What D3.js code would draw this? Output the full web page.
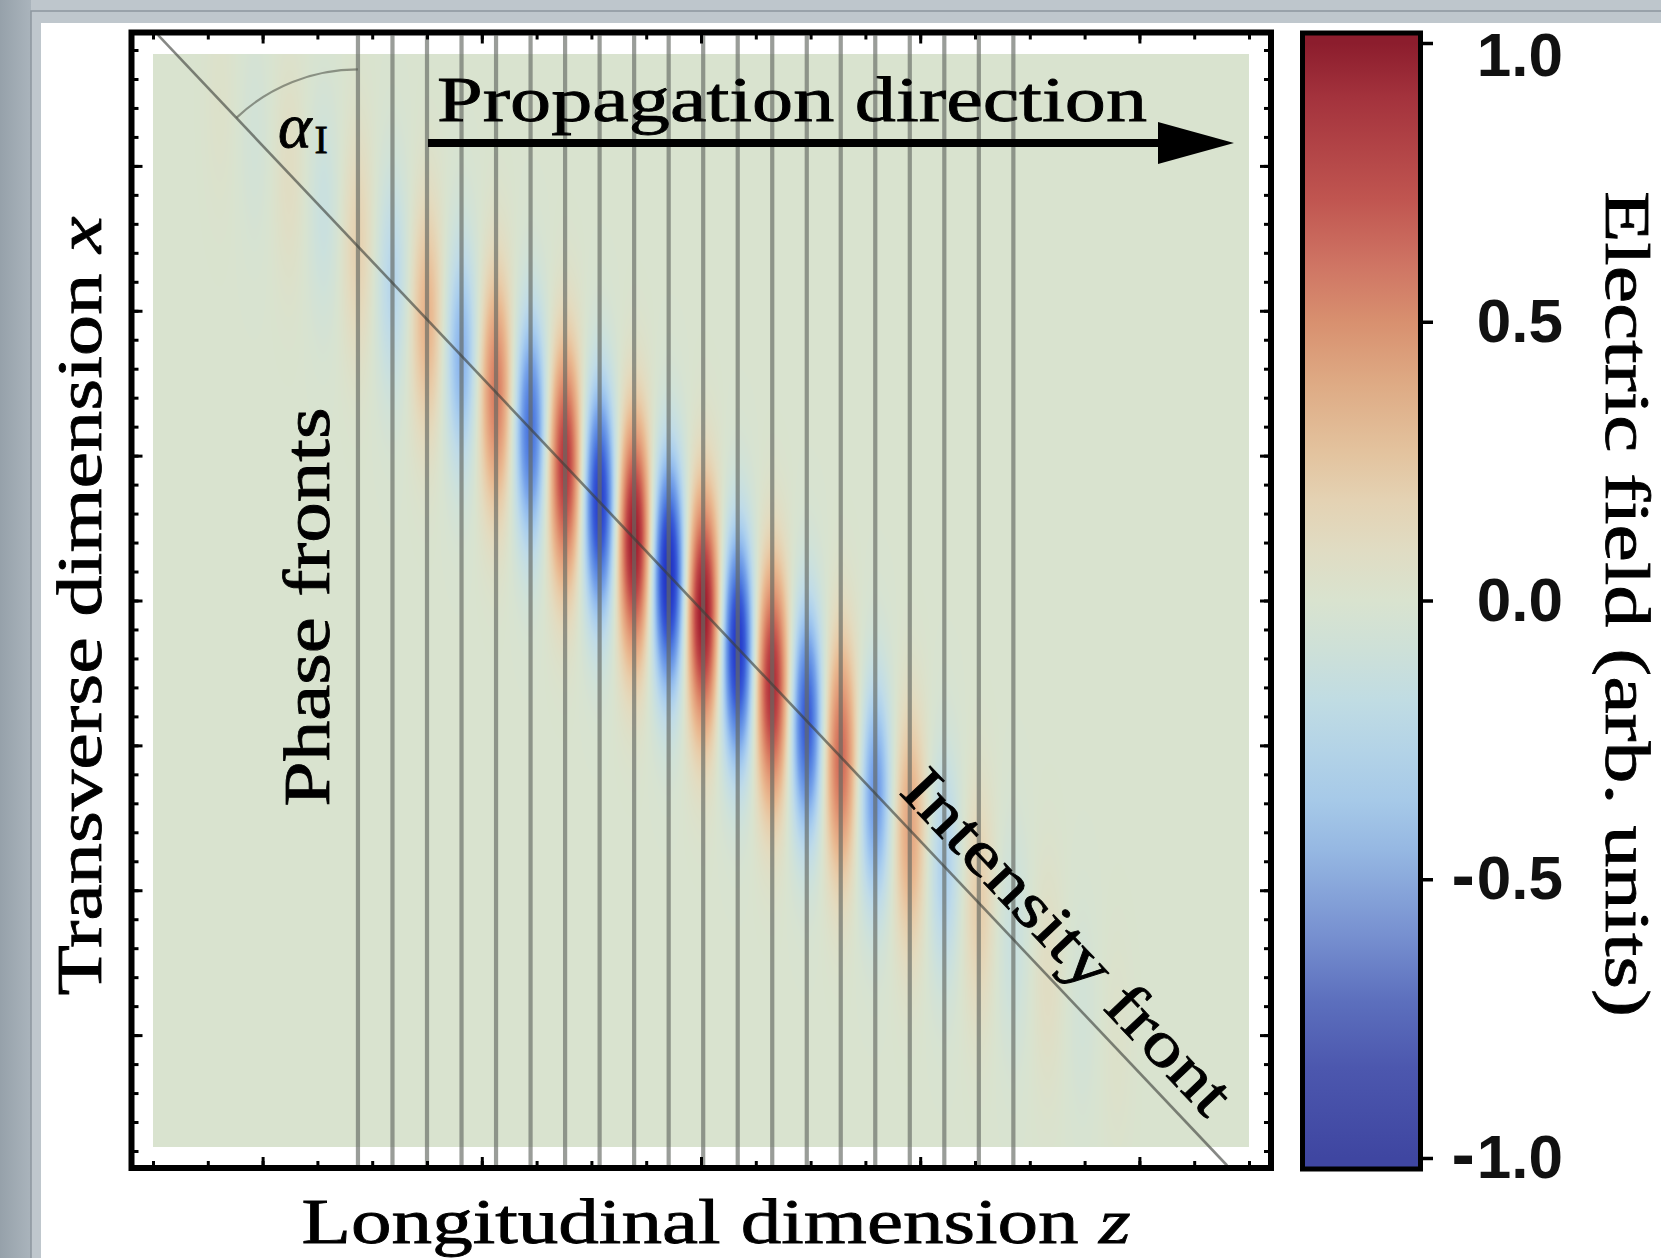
<!DOCTYPE html>
<html lang="en">
<head>
	<meta charset="utf-8">
	<style>
		body {
		  margin:0; padding:0;
		  background-color:#bcc4ca;
		}
		svg { display:block; }
		.serif { font-family:"Liberation Serif","Times New Roman",serif; fill:#000; stroke:#000; stroke-width:0.8px; }
		.cbar-label { font:bold 62px "Liberation Sans",Arial,sans-serif; fill:#111; }
	</style>
</head>
<body>
<svg id="chart" width="1661" height="1258"></svg>
<script src="https://cdn.jsdelivr.net/npm/d3@7"></script>
<script>
// ---- data ----
// frame ticks, longitudinal z (top/bottom) and transverse x (left/right)
var zTicks = [-10,-9,-8,-7,-6,-5,-4,-3,-2,-1,0,1,2,3,4,5,6,7,8,9,10];
var zMajor = [-8,-4,0,4,8];
var xTicks = [-19,-18,-17,-16,-15,-14,-13,-12,-11,-10,-9,-8,-7,-6,-5,-4,-3,-2,-1,0,
              1,2,3,4,5,6,7,8,9,10,11,12,13,14,15,16,17,18,19];
var xMajor = [-15,-10,-5,0,5,10,15];

// grey phase fronts (z)
var phaseFronts = [-6.26,-5.63,-5.00,-4.37,-3.74,-3.11,-2.48,-1.85,-1.22,-0.59,
                   0.04,0.67,1.30,1.93,2.55,3.18,3.81,4.44,5.07,5.70];

// half cycles of the pulse: centre z and signed peak field
var cycleZ = [-8.77,-8.14,-7.51,-6.88,-6.26,-5.63,-5.00,-4.37,-3.74,-3.11,-2.48,-1.85,-1.22,-0.59,
              0.04,0.67,1.30,1.93,2.55,3.18,3.81,4.44,5.07,5.70,6.33,6.96,7.59];
var cyclePeak = [0.03,-0.05,0.07,-0.11,0.15,-0.22,0.30,-0.40,0.53,-0.66,0.80,-0.88,0.95,-1.00,
                 0.97,-0.93,0.85,-0.75,0.60,-0.50,0.36,-0.26,0.17,-0.11,0.07,-0.05,0.03];

// intensity front end points
var frontZ = [-9.91, 9.60];
var frontX = [19.52, -19.50];

// colour bar
var barTicks  = [1, 0.5, 0, -0.5, -1];
var barLabels = ['1.0','0.5','0.0','-0.5','-1.0'];
var stopValues  = [-1,-0.84,-0.72,-0.6,-0.45,-0.36,-0.27,-0.18,-0.09,0,0.09,0.18,0.27,0.39,0.5,0.6,0.72,0.9,1];
var barColors   = ['#3f46a1','#4c57ae','#5c6fbd','#7790d0','#95b7e2','#a6c9e8','#b3d3e7','#c0dce3','#cde0d8','#d9e3cf',
                   '#e0dcc3','#e4d2b3','#e3c29d','#deaa84','#d8906f','#cf7564','#c05550','#a4333d','#8c1d2d'];
// the field image itself is printed a bit more saturated than the bar
var fieldColors = ['#1f30c0','#2b45cf','#3a5dd8','#5380e1','#79a5ea','#94bdee','#abcfee','#bfdbe8','#cce1dc','#d9e3cf',
                   '#e3dbbf','#e8cdaa','#e9ba92','#e49f7b','#db8366','#d06756','#bf4646','#a42231','#8c1525'];

var sigmaZ = 0.29, sigmaX = 3.9;

var svg = d3.select('#chart');
var frame = {left:131.5, top:32.5, right:1271, bottom:1168};

var zScale = d3.scaleLinear().domain([-10,10]).range([153,1249]);
var xScale = d3.scaleLinear().domain([-19,19]).range([1151,50]);
var cScale = d3.scaleLinear().domain([-1,1]).range([1158,43]);
var frontAt = d3.scaleLinear().domain(frontZ).range(frontX);

// ---- window chrome ----
var defs = svg.append('defs');
var lg = defs.append('linearGradient').attr('id','side').attr('x1',0).attr('x2',1).attr('y1',0).attr('y2',0);
lg.append('stop').attr('offset',0).attr('stop-color','#96a1aa');
lg.append('stop').attr('offset',1).attr('stop-color','#aab4bc');
svg.append('rect').attr('width',1661).attr('height',1258).attr('fill','#bec6cc');
svg.append('rect').attr('width',31).attr('height',1258).attr('fill','url(#side)');
svg.append('rect').attr('x',31).attr('y',11).attr('width',1640).attr('height',1260)
	.attr('fill','#bfc7cd').attr('stroke','#8d979f').attr('stroke-width',1.5);
svg.append('rect').attr('x',41).attr('y',23).attr('width',1620).attr('height',1235).attr('fill','#fff');

// ---- field image ----
var hx0 = Math.round(zScale(-10)), hx1 = Math.round(zScale(10));
var hy0 = Math.round(xScale(18.85)), hy1 = Math.round(xScale(-18.85));
var W = hx1 - hx0, H = hy1 - hy0;
var canvas = document.createElement('canvas');
canvas.width = W; canvas.height = H;
var ctx = canvas.getContext('2d');
var img = ctx.createImageData(W, H);

var colProf = cycleZ.map(function(zc){
	var a = new Float32Array(W);
	for(var i=0;i<W;i++){
		var t = (zScale.invert(hx0+i+0.5) - zc)/sigmaZ;
		a[i] = Math.exp(-t*t);
	}
	return a;
});
var rowProf = cycleZ.map(function(zc, n){
	var a = new Float32Array(H), xc = frontAt(zc);
	for(var j=0;j<H;j++){
		var t = (xScale.invert(hy0+j+0.5) - xc)/sigmaX;
		a[j] = cyclePeak[n]*Math.exp(-t*t);
	}
	return a;
});
var fieldColor = d3.scaleLinear().domain(stopValues).range(fieldColors).clamp(true);
var lut = d3.range(513).map(function(i){ return d3.rgb(fieldColor(i/256 - 1)); });
for(var j=0;j<H;j++){
	for(var i=0;i<W;i++){
		var v = 0;
		for(var n=0;n<cycleZ.length;n++){
			var r = rowProf[n][j];
			if(r > 1e-4 || r < -1e-4) v += r*colProf[n][i];
		}
		var c = lut[Math.max(0, Math.min(512, Math.round((v+1)*256)))];
		var k = (j*W + i)*4;
		img.data[k] = c.r; img.data[k+1] = c.g; img.data[k+2] = c.b; img.data[k+3] = 255;
	}
}
ctx.putImageData(img, 0, 0);
svg.append('image').attr('x',hx0).attr('y',hy0).attr('width',W).attr('height',H)
	.attr('href', canvas.toDataURL());

// ---- phase fronts ----
svg.append('g').selectAll('line').data(phaseFronts).join('line')
	.attr('x1', function(d){ return zScale(d); }).attr('x2', function(d){ return zScale(d); })
	.attr('y1', frame.top+3).attr('y2', frame.bottom-3)
	.attr('stroke','#666a64').attr('stroke-opacity',0.66).attr('stroke-width',4.2);

// ---- intensity front ----
var p0 = [zScale(frontZ[0]), xScale(frontX[0])], p1 = [zScale(frontZ[1]), xScale(frontX[1])];
svg.append('line').attr('x1',p0[0]).attr('y1',p0[1]).attr('x2',p1[0]).attr('y2',p1[1])
	.attr('stroke','#3c3f3a').attr('stroke-opacity',0.62).attr('stroke-width',2.6);

// angle between phase front and intensity front
var cx = zScale(phaseFronts[0]), cy = xScale(frontAt(phaseFronts[0]));
var aFront = Math.atan2(p0[1]-p1[1], p0[0]-p1[0]);
var arcR = 177;
var ap = d3.path();
ap.moveTo(cx + arcR*Math.cos(aFront), cy + arcR*Math.sin(aFront));
ap.arc(cx, cy, arcR, aFront, -Math.PI/2);
svg.append('path').attr('d', ap.toString()).attr('fill','none')
	.attr('stroke','#55594f').attr('stroke-opacity',0.6).attr('stroke-width',2.2);

var al = svg.append('text').attr('class','serif').attr('x',278).attr('y',147);
al.append('tspan').attr('font-size',64).attr('font-style','italic').text('α');
al.append('tspan').attr('font-size',40).attr('dx',3).attr('dy',6).text('I');

// ---- annotations ----
svg.append('text').attr('class','serif').attr('x',437).attr('y',121)
	.attr('font-size',64).attr('textLength',710).attr('lengthAdjust','spacingAndGlyphs')
	.text('Propagation direction');
svg.append('line').attr('x1',428).attr('x2',1162).attr('y1',143).attr('y2',143)
	.attr('stroke','#000').attr('stroke-width',8);
svg.append('path').attr('d','M1158,122L1234,143L1158,164Z').attr('fill','#000');

svg.append('text').attr('class','serif').attr('transform','translate(329,607) rotate(-90)')
	.attr('text-anchor','middle').attr('font-size',66)
	.attr('textLength',399).attr('lengthAdjust','spacingAndGlyphs').text('Phase fronts');

var fAng = Math.atan2(p1[1]-p0[1], p1[0]-p0[0]);
var fPos = [p0[0] + 0.825*(p1[0]-p0[0]), p0[1] + 0.825*(p1[1]-p0[1])];
svg.append('text').attr('class','serif')
	.attr('transform','translate('+fPos[0]+','+fPos[1]+') rotate('+(fAng*180/Math.PI)+')')
	.attr('y',-17).attr('text-anchor','middle').attr('font-size',64)
	.attr('textLength',450).attr('lengthAdjust','spacingAndGlyphs').text('Intensity front');

// ---- frame ticks ----
function ticks(axisFn, scale, values, size, transform){
	var g = svg.append('g').attr('transform', transform)
		.call(axisFn(scale).tickValues(values).tickSize(size).tickFormat(''));
	g.select('.domain').remove();
	g.selectAll('.tick line').attr('stroke','#000').attr('stroke-width',3);
}
ticks(d3.axisBottom, zScale, zTicks, -7,  'translate(0,'+frame.bottom+')');
ticks(d3.axisBottom, zScale, zMajor, -11, 'translate(0,'+frame.bottom+')');
ticks(d3.axisTop,    zScale, zTicks, -7,  'translate(0,'+frame.top+')');
ticks(d3.axisTop,    zScale, zMajor, -11, 'translate(0,'+frame.top+')');
ticks(d3.axisLeft,   xScale, xTicks, -7,  'translate('+frame.left+',0)');
ticks(d3.axisLeft,   xScale, xMajor, -11, 'translate('+frame.left+',0)');
ticks(d3.axisRight,  xScale, xTicks, -7,  'translate('+frame.right+',0)');
ticks(d3.axisRight,  xScale, xMajor, -11, 'translate('+frame.right+',0)');

svg.append('rect').attr('x',frame.left).attr('y',frame.top)
	.attr('width',frame.right-frame.left).attr('height',frame.bottom-frame.top)
	.attr('fill','none').attr('stroke','#000').attr('stroke-width',6);

// ---- axis titles ----
var xt = svg.append('text').attr('class','serif').attr('x',716).attr('y',1243)
	.attr('text-anchor','middle').attr('font-size',63)
	.attr('textLength',829).attr('lengthAdjust','spacingAndGlyphs');
xt.append('tspan').text('Longitudinal dimension ');
xt.append('tspan').attr('font-style','italic').text('z');

var yt = svg.append('text').attr('class','serif').attr('transform','translate(101,606) rotate(-90)')
	.attr('text-anchor','middle').attr('font-size',64)
	.attr('textLength',779).attr('lengthAdjust','spacingAndGlyphs');
yt.append('tspan').text('Transverse dimension ');
yt.append('tspan').attr('font-style','italic').text('x');

// ---- colour bar ----
var cg = defs.append('linearGradient').attr('id','cbar').attr('gradientUnits','userSpaceOnUse')
	.attr('x1',0).attr('x2',0).attr('y1',cScale(-1)).attr('y2',cScale(1));
cg.selectAll('stop').data(stopValues).join('stop')
	.attr('offset', function(d){ return (d+1)/2; })
	.attr('stop-color', function(d,i){ return barColors[i]; });
svg.append('rect').attr('x',1302.5).attr('y',33).attr('width',118).attr('height',1136)
	.attr('fill','url(#cbar)').attr('stroke','#000').attr('stroke-width',5);
var cAxis = svg.append('g').attr('transform','translate(1418,0)')
	.call(d3.axisRight(cScale).tickValues(barTicks).tickSize(15).tickFormat(''));
cAxis.select('.domain').remove();
cAxis.selectAll('.tick line').attr('stroke','#000').attr('stroke-width',3.5);
var bl = svg.append('g').selectAll('text').data(barTicks).join('text')
	.attr('class','cbar-label').attr('text-anchor','end').attr('x',1563)
	.attr('y', function(d){ return Math.max(cScale(d)-2, 54) + 22; });
bl.each(function(d,i){
	var t = d3.select(this), s = barLabels[i];
	if(s.charAt(0) === '-'){
		t.append('tspan').attr('font-size',70).text('-');
		t.append('tspan').attr('dx',2).text(s.slice(1));
	} else {
		t.text(s);
	}
});

svg.append('text').attr('class','serif').attr('transform','translate(1606,604) rotate(90)')
	.attr('text-anchor','middle').attr('font-size',63)
	.attr('textLength',826).attr('lengthAdjust','spacingAndGlyphs')
	.text('Electric field (arb. units)');
</script>
</body>
</html>
